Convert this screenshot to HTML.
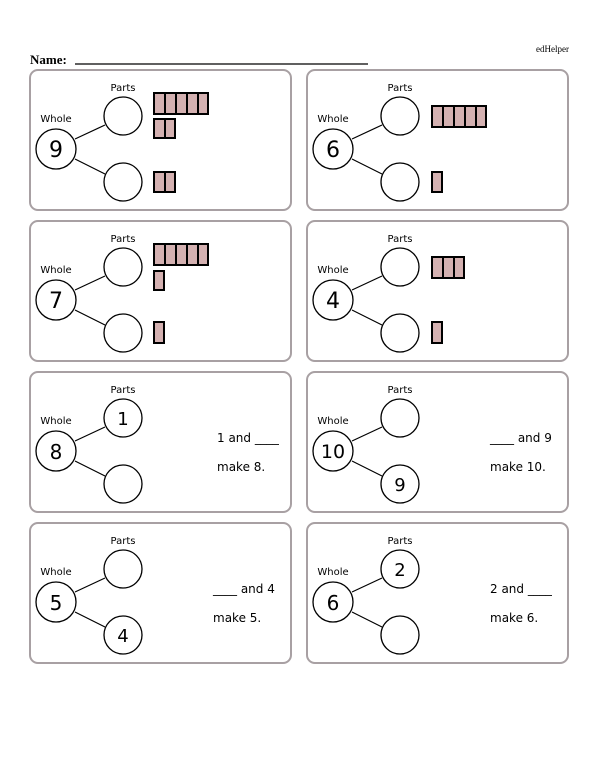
<!DOCTYPE html>
<html><head><meta charset="utf-8"><style>
body{margin:0;background:#fff;}
svg{display:block;}
.t{font-family:"DejaVu Sans","Liberation Sans",sans-serif;}
</style></head><body>
<svg width="600" height="776" viewBox="0 0 600 776" xmlns="http://www.w3.org/2000/svg">
<defs>
<g id="frame">
<rect x="0" y="0" width="261" height="140" rx="8" fill="none" stroke="#a8a0a3" stroke-width="2"/>
<text x="93" y="21" font-size="10" text-anchor="middle" class="t" fill="#000" stroke="none">Parts</text>
<text x="26" y="52" font-size="10" text-anchor="middle" class="t" fill="#000" stroke="none">Whole</text>
<line x1="45" y1="69" x2="75" y2="55" stroke="#000" stroke-width="1.2"/>
<line x1="45" y1="89" x2="75" y2="104" stroke="#000" stroke-width="1.2"/>
<circle cx="26" cy="79" r="20" fill="#fff" stroke="#000" stroke-width="1.3"/>
<circle cx="93" cy="46" r="19" fill="#fff" stroke="#000" stroke-width="1.3"/>
<circle cx="93" cy="112" r="19" fill="#fff" stroke="#000" stroke-width="1.3"/>
</g>
</defs>
<text x="536" y="52" font-size="9" font-family="Liberation Serif,serif">edHelper</text>
<text x="30" y="64" font-size="13" font-weight="bold" font-family="Liberation Serif,serif">Name:</text>
<line x1="75" y1="64" x2="368" y2="64" stroke="#000" stroke-width="1.3"/>

<!-- panel 1 -->
<g transform="translate(30,70)">
<use href="#frame"/>
<text x="26" y="87" font-size="22" text-anchor="middle" class="t">9</text>
<g fill="#d4b1b1" stroke="#000" stroke-width="2">
<rect x="124" y="23" width="54" height="21"/><path d="M135 23V44M146 23V44M157 23V44M168 23V44" fill="none"/>
<rect x="124" y="49" width="21" height="19"/><path d="M135 49V68" fill="none"/>
<rect x="124" y="102" width="21" height="20"/><path d="M135 102V122" fill="none"/>
</g>
</g>
<!-- panel 2 -->
<g transform="translate(307,70)">
<use href="#frame"/>
<text x="26" y="87" font-size="22" text-anchor="middle" class="t">6</text>
<g fill="#d4b1b1" stroke="#000" stroke-width="2">
<rect x="125" y="36" width="54" height="21"/><path d="M136 36V57M147 36V57M158 36V57M169 36V57" fill="none"/>
<rect x="125" y="102" width="10" height="20"/>
</g>
</g>
<!-- panel 3 -->
<g transform="translate(30,221)">
<use href="#frame"/>
<text x="26" y="87" font-size="22" text-anchor="middle" class="t">7</text>
<g fill="#d4b1b1" stroke="#000" stroke-width="2">
<rect x="124" y="23" width="54" height="21"/><path d="M135 23V44M146 23V44M157 23V44M168 23V44" fill="none"/>
<rect x="124" y="50" width="10" height="19"/>
<rect x="124" y="101" width="10" height="21"/>
</g>
</g>
<!-- panel 4 -->
<g transform="translate(307,221)">
<use href="#frame"/>
<text x="26" y="87" font-size="22" text-anchor="middle" class="t">4</text>
<g fill="#d4b1b1" stroke="#000" stroke-width="2">
<rect x="125" y="36" width="32" height="21"/><path d="M136 36V57M147 36V57" fill="none"/>
<rect x="125" y="101" width="10" height="21"/>
</g>
</g>

<!-- panel 5 -->
<g transform="translate(30,372)">
<use href="#frame"/>
<text x="26" y="87" font-size="20" text-anchor="middle" class="t">8</text>
<text x="93" y="53" font-size="18" text-anchor="middle" class="t">1</text>
<text x="187" y="70" font-size="12" class="t">1 and ____</text>
<text x="187" y="99" font-size="12" class="t">make 8.</text>
</g>
<!-- panel 6 -->
<g transform="translate(307,372)">
<use href="#frame"/>
<text x="26" y="86" font-size="19" text-anchor="middle" class="t">10</text>
<text x="93" y="119" font-size="18" text-anchor="middle" class="t">9</text>
<text x="183" y="70" font-size="12" class="t">____ and 9</text>
<text x="183" y="99" font-size="12" class="t">make 10.</text>
</g>
<!-- panel 7 -->
<g transform="translate(30,523)">
<use href="#frame"/>
<text x="26" y="87" font-size="20" text-anchor="middle" class="t">5</text>
<text x="93" y="119" font-size="18" text-anchor="middle" class="t">4</text>
<text x="183" y="70" font-size="12" class="t">____ and 4</text>
<text x="183" y="99" font-size="12" class="t">make 5.</text>
</g>
<!-- panel 8 -->
<g transform="translate(307,523)">
<use href="#frame"/>
<text x="26" y="87" font-size="20" text-anchor="middle" class="t">6</text>
<text x="93" y="53" font-size="18" text-anchor="middle" class="t">2</text>
<text x="183" y="70" font-size="12" class="t">2 and ____</text>
<text x="183" y="99" font-size="12" class="t">make 6.</text>
</g>
</svg>
</body></html>
